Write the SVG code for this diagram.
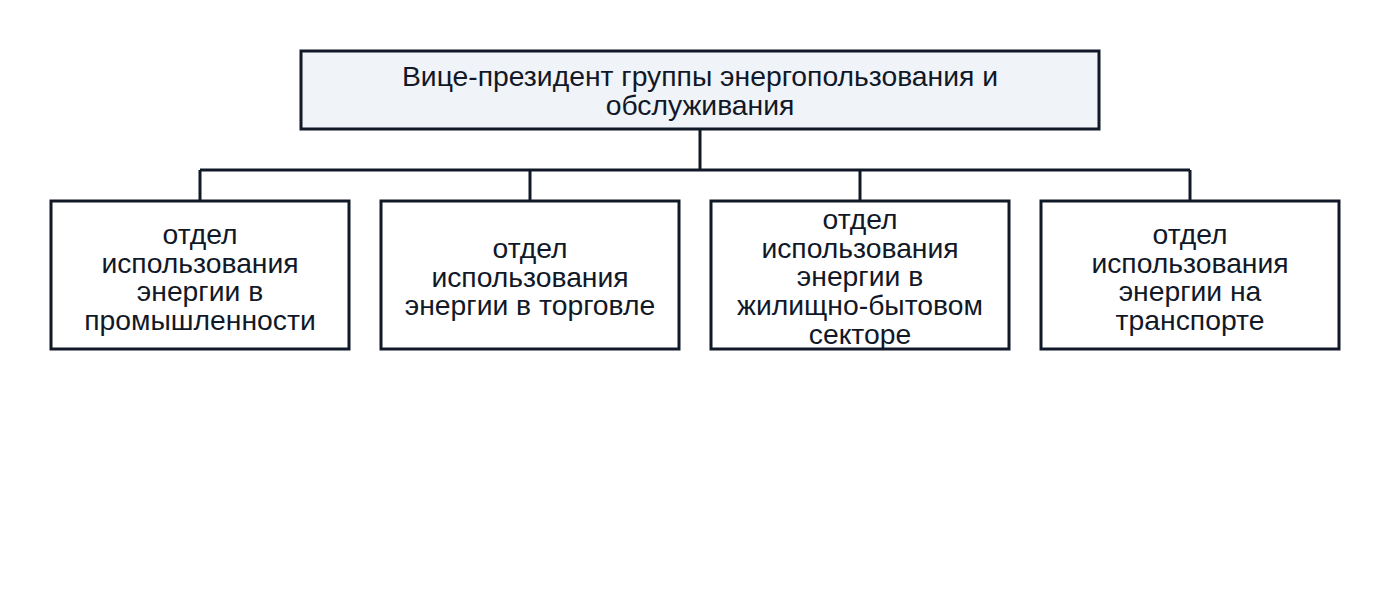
<svg xmlns="http://www.w3.org/2000/svg" width="1400" height="600" viewBox="0 0 1400 600">
<style>
.box{fill:#ffffff;stroke:#111827;stroke-width:3}
.top{fill:#f0f3f8}
.t{font-family:"Liberation Sans",Arial,sans-serif;font-size:28.3px;fill:#111827;text-anchor:middle}
.c{fill:none;stroke:#111827;stroke-width:3}
</style>
<rect width="1400" height="600" fill="#ffffff"/>
<g id="connectors">
<path class="c" d="M700 129V170M200 170H1190M200 170V201M530 170V201M860 170V201M1190 170V201"/>
</g>
<g id="vp">
<rect class="box top" x="301" y="51" width="798" height="78"/>
<text class="t" x="700" y="86">Вице-президент группы энергопользования и</text>
<text class="t" x="700" y="115">обслуживания</text>
</g>
<g id="industry">
<rect class="box" x="51" y="201" width="298" height="148"/>
<text class="t" x="200" y="244">отдел</text>
<text class="t" x="200" y="273">использования</text>
<text class="t" x="200" y="301">энергии в</text>
<text class="t" x="200" y="330">промышленности</text>
</g>
<g id="commerce">
<rect class="box" x="381" y="201" width="298" height="148"/>
<text class="t" x="530" y="258">отдел</text>
<text class="t" x="530" y="287">использования</text>
<text class="t" x="530" y="315">энергии в торговле</text>
</g>
<g id="housing">
<rect class="box" x="711" y="201" width="298" height="148"/>
<text class="t" x="860" y="229">отдел</text>
<text class="t" x="860" y="258">использования</text>
<text class="t" x="860" y="286">энергии в</text>
<text class="t" x="860" y="315">жилищно-бытовом</text>
<text class="t" x="860" y="344">секторе</text>
</g>
<g id="transport">
<rect class="box" x="1041" y="201" width="298" height="148"/>
<text class="t" x="1190" y="244">отдел</text>
<text class="t" x="1190" y="273">использования</text>
<text class="t" x="1190" y="301">энергии на</text>
<text class="t" x="1190" y="330">транспорте</text>
</g>
</svg>
